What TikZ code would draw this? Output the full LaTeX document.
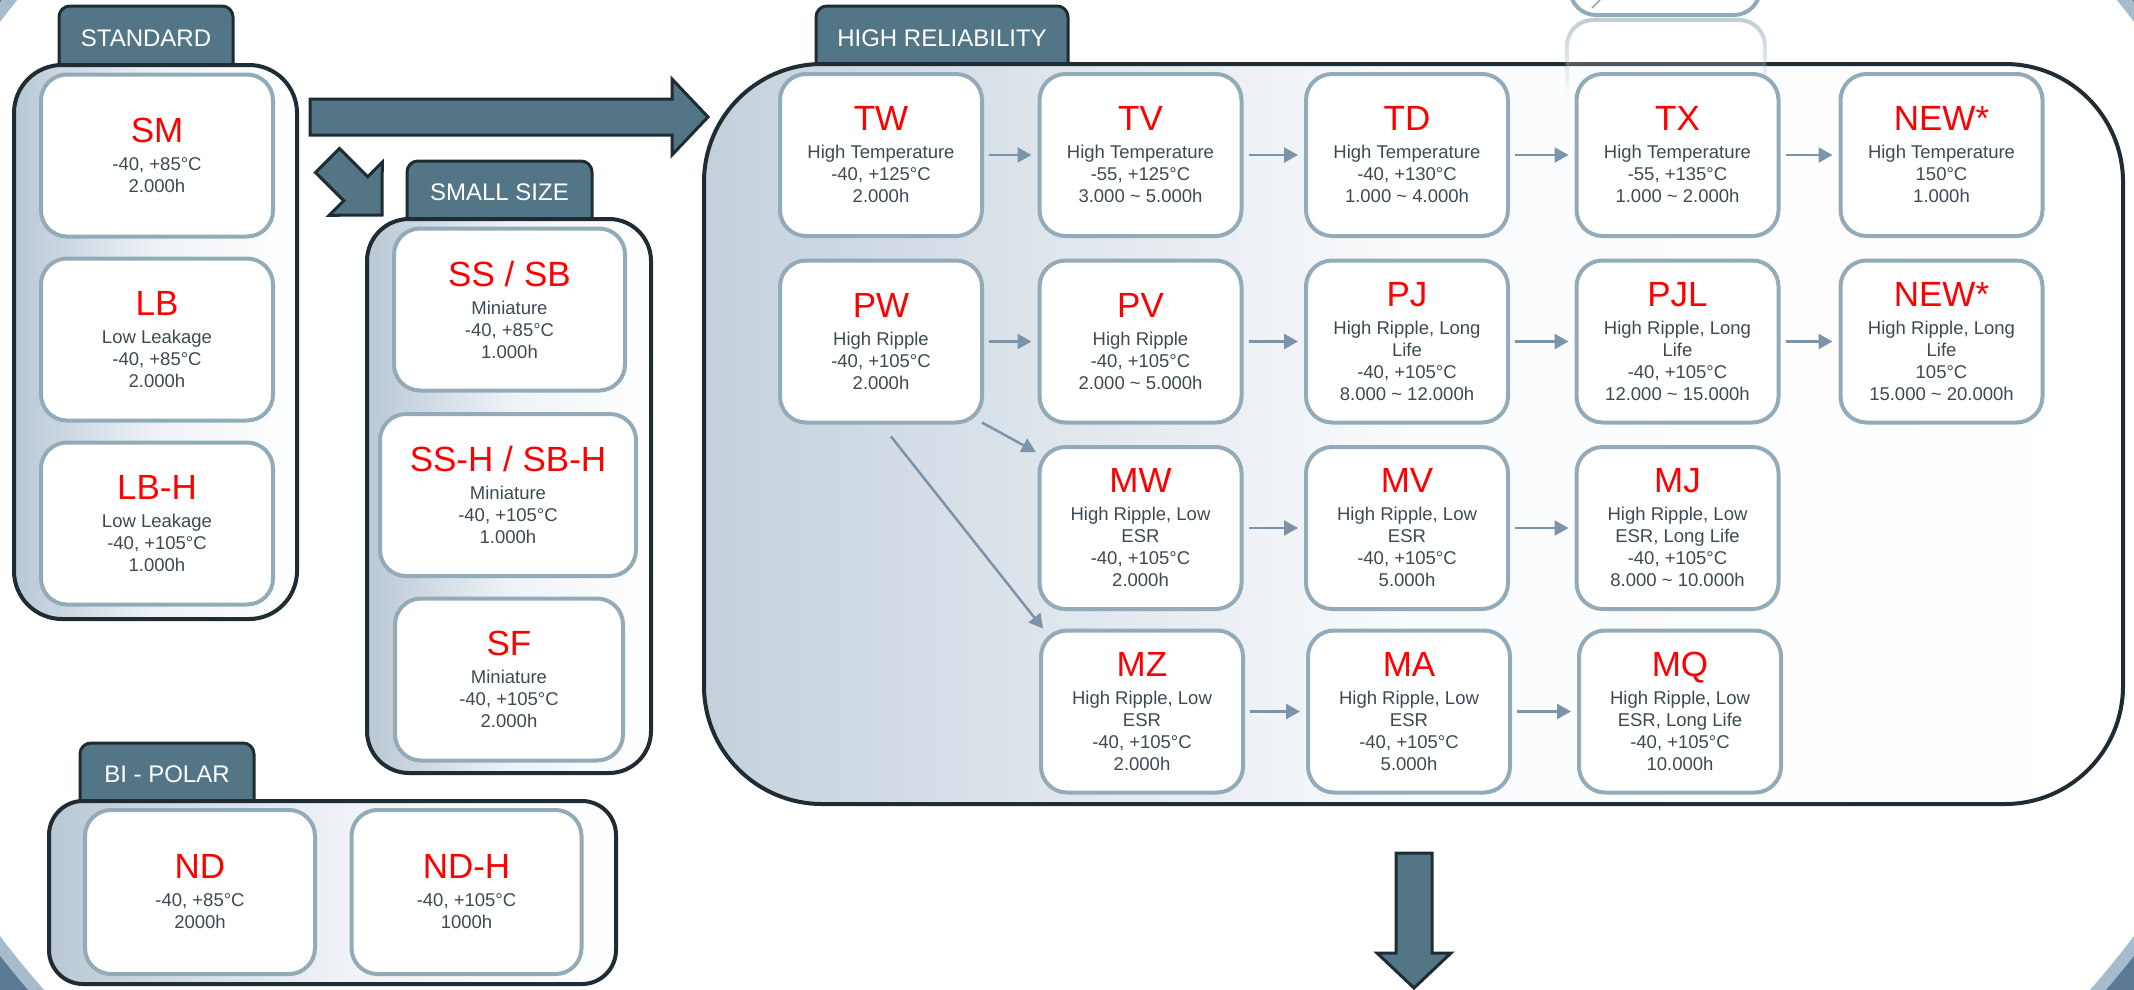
\documentclass[tikz,border=0pt]{standalone}
\usepackage{fontspec}
\setmainfont{Liberation Sans}
\usetikzlibrary{arrows.meta,calc,fadings}

\definecolor{tabF}{HTML}{537686}
\definecolor{darkB}{HTML}{1F2C33}
\definecolor{boxB}{HTML}{93ABB8}
\definecolor{connC}{HTML}{7C94AA}
\definecolor{txt}{HTML}{3C4A53}
\definecolor{ttlR}{HTML}{FF0000}
\definecolor{grpL}{HTML}{B9C8D5}
\definecolor{grpM}{HTML}{EEF2F6}
\definecolor{ringL}{HTML}{A6BBCC}
\definecolor{ringD}{HTML}{5B7993}

\newcommand\ttl[1]{{\fontsize{35}{30}\selectfont\color{ttlR}#1}\\[6pt]}
\newcommand\tld{\textasciitilde}

\tikzset{
 pbox/.style={draw=boxB, line width=4pt, fill=white, rounded corners=26pt, inner sep=0pt, align=center, text=txt, font=\fontsize{18.5}{22}\selectfont, minimum height=162pt, minimum width=202pt},
 grp/.style={draw=darkB, line width=4pt, left color=grpL, right color=white, middle color=grpM, inner sep=0pt},
 tabbox/.style={fill=tabF, draw=darkB, line width=3pt, rounded corners=11pt},
 tabtxt/.style={text=white, font=\fontsize{24}{28}\selectfont, inner sep=0pt},
 link/.style={draw=connC, line width=2.5pt, -{Triangle[length=14pt,width=15pt]}, shorten >=6pt, shorten <=5pt},
 bigarrow/.style={fill=tabF, draw=darkB, line width=3pt, line join=miter},
}

\begin{document}
\begin{tikzpicture}[x=1pt,y=-1pt]
\useasboundingbox (0,0) rectangle (2134,989);
\clip (0,0) rectangle (2134,989);
\fill[white] (0,0) rectangle (2134,989);

% background ring
\fill[ringD, even odd rule] (-20,-20) rectangle (2154,1009) (1067,479) ellipse [x radius=1238, y radius=936];
\draw[ringL, line width=12pt] (1067,479) ellipse [x radius=1233, y radius=931];

% partially visible box at the top
\node[pbox, minimum width=190pt, minimum height=140pt] (topbox) at (1665,-55) {};
\draw[connC!80, line width=1.5pt] (1592,8) -- (1600,0);

% ---------- tabs ----------
\filldraw[tabbox] (59,66) -- (59,6) -- (233,6) -- (233,66);
\filldraw[tabbox] (407,220) -- (407,161) -- (592,161) -- (592,220);
\filldraw[tabbox] (80,802) -- (80,743) -- (254,743) -- (254,802);
\filldraw[tabbox] (816,65) -- (816,6) -- (1068,6) -- (1068,65);

% ---------- group boxes ----------
\node[grp, rounded corners=48pt, minimum width=283pt, minimum height=554pt] (gStd) at (155.5,342) {};
\node[grp, rounded corners=42pt, minimum width=284pt, minimum height=554pt] (gSmall) at (509,496) {};
\node[grp, rounded corners=34pt, minimum width=567pt, minimum height=183pt] (gBi) at (332.5,892.5) {};
\node[grp, rounded corners=118pt, minimum width=1419pt, minimum height=740pt, left color=grpL!85!white, right color=white, middle color=white!70!grpM] (gHR) at (1413.5,434) {};

% reflection of the top box
\path[fill=white, fill opacity=0.5, draw=boxB, draw opacity=0.6, line width=4pt, rounded corners=26pt, path fading=south]
  (1567,95) -- (1567,20) -- (1765,20) -- (1765,95);

% tab labels
\node[tabtxt] (tStd) at (146,38) {STANDARD};
\node[tabtxt] (tSmall) at (499.5,192) {SMALL SIZE};
\node[tabtxt] (tBi) at (167,774) {BI - POLAR};
\node[tabtxt] (tHR) at (942,38) {HIGH RELIABILITY};

% ---------- STANDARD ----------
\node[pbox, minimum width=232pt] (SM) at (157,155.5) {\ttl{SM}-40, +85°C\\2.000h};
\node[pbox, minimum width=232pt] (LB) at (157,339.5) {\ttl{LB}Low Leakage\\-40, +85°C\\2.000h};
\node[pbox, minimum width=232pt] (LBH) at (157,523.5) {\ttl{LB-H}Low Leakage\\-40, +105°C\\1.000h};

% ---------- SMALL SIZE ----------
\node[pbox, minimum width=231pt] (SSSB) at (509.5,309.5) {\ttl{SS / SB}Miniature\\-40, +85°C\\1.000h};
\node[pbox, minimum width=256pt] (SSH) at (508,495) {\ttl{SS-H / SB-H}Miniature\\-40, +105°C\\1.000h};
\node[pbox, minimum width=228pt] (SF) at (509,679.5) {\ttl{SF}Miniature\\-40, +105°C\\2.000h};

% ---------- BI-POLAR ----------
\node[pbox, minimum width=230pt, minimum height=164pt] (ND) at (200,892) {\ttl{ND}-40, +85°C\\2000h};
\node[pbox, minimum width=230pt, minimum height=164pt] (NDH) at (466.5,892) {\ttl{ND-H}-40, +105°C\\1000h};

% ---------- HIGH RELIABILITY ----------
\node[pbox] (TW) at (881,155) {\ttl{TW}High Temperature\\-40, +125°C\\2.000h};
\node[pbox] (TV) at (1140.5,155) {\ttl{TV}High Temperature\\-55, +125°C\\3.000 \tld{} 5.000h};
\node[pbox] (TD) at (1407,155) {\ttl{TD}High Temperature\\-40, +130°C\\1.000 \tld{} 4.000h};
\node[pbox] (TX) at (1677.5,155) {\ttl{TX}High Temperature\\-55, +135°C\\1.000 \tld{} 2.000h};
\node[pbox] (N1) at (1941.5,155) {\ttl{NEW*}High Temperature\\150°C\\1.000h};

\node[pbox] (PW) at (881,341.5) {\ttl{PW}High Ripple\\-40, +105°C\\2.000h};
\node[pbox] (PV) at (1140.5,341.5) {\ttl{PV}High Ripple\\-40, +105°C\\2.000 \tld{} 5.000h};
\node[pbox] (PJ) at (1407,341.5) {\ttl{PJ}High Ripple, Long\\Life\\-40, +105°C\\8.000 \tld{} 12.000h};
\node[pbox] (PJL) at (1677.5,341.5) {\ttl{PJL}High Ripple, Long\\Life\\-40, +105°C\\12.000 \tld{} 15.000h};
\node[pbox] (N2) at (1941.5,341.5) {\ttl{NEW*}High Ripple, Long\\Life\\105°C\\15.000 \tld{} 20.000h};

\node[pbox] (MW) at (1140.5,528) {\ttl{MW}High Ripple, Low\\ESR\\-40, +105°C\\2.000h};
\node[pbox] (MV) at (1407,528) {\ttl{MV}High Ripple, Low\\ESR\\-40, +105°C\\5.000h};
\node[pbox] (MJ) at (1677.5,528) {\ttl{MJ}High Ripple, Low\\ESR, Long Life\\-40, +105°C\\8.000 \tld{} 10.000h};

\node[pbox] (MZ) at (1142,711.5) {\ttl{MZ}High Ripple, Low\\ESR\\-40, +105°C\\2.000h};
\node[pbox] (MA) at (1409,711.5) {\ttl{MA}High Ripple, Low\\ESR\\-40, +105°C\\5.000h};
\node[pbox] (MQ) at (1680,711.5) {\ttl{MQ}High Ripple, Low\\ESR, Long Life\\-40, +105°C\\10.000h};

% ---------- connectors ----------
\draw[link] (TW) -- (TV);
\draw[link] (TV) -- (TD);
\draw[link] (TD) -- (TX);
\draw[link] (TX) -- (N1);
\draw[link] (PW) -- (PV);
\draw[link] (PV) -- (PJ);
\draw[link] (PJ) -- (PJL);
\draw[link] (PJL) -- (N2);
\draw[link] (MW) -- (MV);
\draw[link] (MV) -- (MJ);
\draw[link] (MZ) -- (MA);
\draw[link] (MA) -- (MQ);
\draw[link, shorten <=0pt, shorten >=2pt] ($(PW.south east)+(-2,-2)$) -- ($(MW.north west)+(0,8)$);
\draw[link, shorten <=0pt, shorten >=0pt] ($(PW.south)+(10,12)$) -- ($(MZ.north west)+(4,0)$);

% ---------- big arrows ----------
\draw[bigarrow] (310,99) -- (672,99) -- (672,79) -- (708,117) -- (672,155) -- (672,135) -- (310,135) -- cycle;
\draw[bigarrow] (339.5,148.5) -- (367.8,176.8) -- (382.3,162.3) -- (382,215) -- (329.3,215.3) -- (343.8,200.8) -- (315.5,172.5) -- cycle;
\draw[bigarrow] (1396,853) -- (1432,853) -- (1432,953) -- (1451,953) -- (1414,988) -- (1377,953) -- (1396,953) -- cycle;
\end{tikzpicture}
\end{document}
